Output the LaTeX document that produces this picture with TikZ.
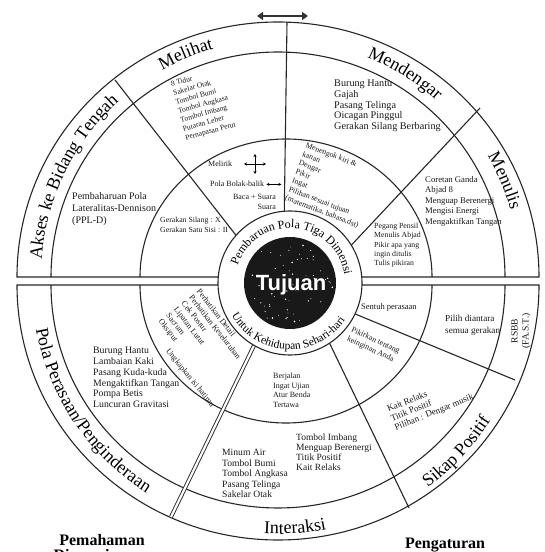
\documentclass[tikz,border=0pt]{standalone}
\usepackage{fontspec}
\setmainfont{Liberation Serif}
\newfontfamily\tujuanfont{Liberation Sans}
\usetikzlibrary{calc,arrows.meta,decorations.text}
\newcommand\ringlabelfont{\fontsize{18}{18}\selectfont}
\newcommand\hubringfont{\fontsize{12}{12}\selectfont}
\newcommand\hubringlowfont{\fontsize{11.5}{11.5}\selectfont}
\def\ringtext[#1](#2)(#3:#4:#5)#6{\path[decorate,decoration={text along path,text align=center,text={|#1|#6}}] ($(#2)+({#5*cos(#3)},{#5*sin(#3)})$) arc (#3:#4:#5);}

\begin{document}
\begin{tikzpicture}[x=1pt,y=1pt,
	wheel/.style={draw=black!85, line width=1.1pt},
	itemlist/.style={align=left, inner sep=0pt, text=black!90},
	tip/.style={line width=0.6pt, {Stealth[length=3pt,width=3pt]}-{Stealth[length=3pt,width=3pt]}}]
			%%%%% START %%%%%
			\useasboundingbox (0,0) rectangle (544,552);
			\clip (0,0) rectangle (544,552);
			
			\coordinate (top) at (278,275);
			\coordinate (bot) at (278,267);
			\coordinate (hubc) at (290,269);
			
			% two half discs
			\draw[wheel] (17,275) arc[start angle=180, end angle=0, x radius=261, y radius=255] -- cycle;
			\draw[wheel] (17,267) arc[start angle=180, end angle=360, x radius=261, y radius=255] -- cycle;
			\draw[wheel] (51,275) arc[start angle=180, end angle=0, x radius=227, y radius=225];
			\draw[wheel] (51,267) arc[start angle=180, end angle=360, x radius=227, y radius=223];
			\draw[wheel] (140,275) arc[start angle=180, end angle=0, x radius=146, y radius=138];
			\draw[wheel] (140,267) arc[start angle=180, end angle=360, x radius=146, y radius=138];
			
			% dividers
			\coordinate (akses) at (115,472);
			\coordinate (akses-in) at (256,291);
			\coordinate (mendengar) at (287,530);
			\coordinate (mendengar-in) at (284,320);
			\coordinate (menulis) at (480,444);
			\coordinate (menulis-in) at (329,283);
			\coordinate (rsbb) at (515,172);
			\coordinate (rsbb-in) at (331,248);
			\coordinate (sikap) at (409,44);
			\coordinate (sikap-in) at (315,239);
			\coordinate (interaksi) at (171,35);
			\coordinate (interaksi-in) at (262,223);
			\draw[wheel] (akses) -- (akses-in);
			\draw[wheel] (mendengar) -- (mendengar-in);
			\draw[wheel] (menulis) -- (menulis-in);
			\draw[wheel] (rsbb) -- (rsbb-in);
			\draw[wheel] (sikap) -- (sikap-in);
			\draw[wheel, line width=0.9pt, double=white, double distance=2.2pt] (interaksi) -- (interaksi-in);
			
			% hub
			\draw[wheel, fill=white] (hubc) circle (72);
			\fill[black!90] (hubc) circle (46);
			\pgfmathsetseed{11}
			\foreach \k in {1,...,60}{
				\pgfmathsetmacro\sa{360*rnd}
				\pgfmathsetmacro\sr{43*sqrt(rnd)}
				\pgfmathsetmacro\sd{0.35+0.55*rnd}
				\fill[white] ($(hubc)+(\sa:\sr)$) circle (\sd);
			}
			\node[text=white, font=\tujuanfont\bfseries\fontsize{22}{22}\selectfont, anchor=base] (tujuan) at (291,261) {Tujuan};
			\ringtext[\hubringfont](hubc)(178:-8:55){Pembaruan Pola Tiga Dimensi}
			\ringtext[\hubringlowfont](hubc)(188:347:66.5){Untuk Kehidupan Sehari-hari}
			
			% ring labels
			\ringtext[\ringlabelfont](top)(176:132:237){Akses ke Bidang Tengah}
			\ringtext[\ringlabelfont](top)(135:90:237){Melihat}
			\ringtext[\ringlabelfont](top)(85:31:237){Mendengar}
			\ringtext[\ringlabelfont](top)(42:4:242){Menulis}
			\ringtext[\ringlabelfont](bot)(186:242:246){Pola Perasaan/Penginderaan}
			\ringtext[\ringlabelfont](bot)(252:296:249){Interaksi}
			\ringtext[\ringlabelfont](bot)(300:334:252){Sikap Positif}
			\node[itemlist, align=center, rotate=90, font=\fontsize{9.5}{11}\selectfont] (rsbbtxt) at (521,221) {RSBB\\(FA.S.T.)};
			
			% upper half
			\node[itemlist, font=\fontsize{7.5}{9.3}\selectfont, rotate=15, anchor=north west] (melihatlist) at (170,471) {8 Tidur\\Sakelar Otak\\Tombol Bumi\\Tombol Angkasa\\Tombol Imbang\\Putaran Leher\\Pernapasan Perut};
			\node[itemlist, font=\fontsize{8}{10}\selectfont, anchor=base west] (melirik) at (208,385) {Melirik};
			\coordinate (silang) at (255,388);
			\draw[tip] ($(silang)+(-11,0)$) -- ($(silang)+(11,0)$);
			\draw[tip] ($(silang)+(0,-10)$) -- ($(silang)+(0,10)$);
			\node[itemlist, font=\fontsize{8}{10}\selectfont, anchor=base west] (bolak) at (210,365) {Pola Bolak-balik};
			\draw[tip] ([xshift=2pt,yshift=2.6pt]bolak.base east) -- ++(15,0);
			\node[itemlist, align=right, font=\fontsize{8}{10}\selectfont, anchor=north east] (baca) at (276,358) {Baca + Suara\\Suara};
			\node[itemlist, font=\fontsize{7.8}{9.5}\selectfont, anchor=north west] (gerakan) at (160,335) {Gerakan Silang : X\\Gerakan Satu Sisi : II};
			\node[itemlist, font=\fontsize{10}{12}\selectfont, anchor=north west] (ppld) at (72,360) {Pembaharuan Pola\\Lateralitas-Dennison\\(PPL-D)};
			\node[itemlist, font=\fontsize{10.2}{10.7}\selectfont, anchor=north west] (mendengarlist) at (334,472) {Burung Hantu\\Gajah\\Pasang Telinga\\Oicagan Pinggul\\Gerakan Silang Berbaring};
			\node[itemlist, font=\fontsize{7.8}{9.4}\selectfont, rotate=-21, anchor=north west] (menengok) at (307,410) {Menengok kiri \&\\kanan\\Dengar\\Pikir\\Ingat\\Pilihan sesuai tujuan\\(matematika, bahasa,dst)};
			\node[itemlist, font=\fontsize{8.7}{10.5}\selectfont, anchor=north west] (menulislist) at (425,376) {Coretan Ganda\\Abjad 8\\Menguap Berenergi\\Mengisi Energi\\Mengaktifkan Tangan};
			\node[itemlist, font=\fontsize{7.8}{9.3}\selectfont, anchor=north west] (pensil) at (374,329) {Pegang Pensil\\Menulis Abjad\\Pikir apa yang\\ingin ditulis\\Tulis pikiran};
			
			% lower half
			\node[itemlist, font=\fontsize{8.5}{10}\selectfont, anchor=base west] (sentuh) at (361,242) {Sentuh perasaan};
			\node[itemlist, font=\fontsize{9.2}{11.7}\selectfont, anchor=north west] (pilih) at (445,237) {Pilih diantara\\semua gerakan};
			\node[itemlist, font=\fontsize{8}{10}\selectfont, rotate=-25, anchor=north west] (pikirkan) at (353,226) {Pikirkan tentang\\keinginan Anda};
			\node[itemlist, font=\fontsize{9}{10}\selectfont, rotate=22, anchor=north west] (kait) at (386,146) {Kait Relaks\\Titik Positif\\Pilihan : Dengar musik};
			\node[itemlist, font=\fontsize{8}{9.5}\selectfont, anchor=north west] (berjalan) at (273,179) {Berjalan\\Ingat Ujian\\Atur Benda\\Tertawa};
			\node[itemlist, font=\fontsize{9.5}{10}\selectfont, anchor=north west] (imbang) at (296,118) {Tombol Imbang\\Menguap Berenergi\\Titik Positif\\Kait Relaks};
			\node[itemlist, font=\fontsize{9.6}{10.5}\selectfont, anchor=north west] (minum) at (222,103) {Minum Air\\Tombol Bumi\\Tombol Angkasa\\Pasang Telinga\\Sakelar Otak};
			\node[itemlist, font=\fontsize{9.8}{10.8}\selectfont, anchor=north west] (perasaanlist) at (93,205) {Burung Hantu\\Lambaian Kaki\\Pasang Kuda-kuda\\Mengaktifkan Tangan\\Pompa Betis\\Luncuran Gravitasi};
			\node[itemlist, font=\fontsize{8.2}{9.7}\selectfont, rotate=-52, anchor=north west] (perhatikan) at (201,264) {Perhatikan Detail\\Perhatikan Keseluruhan\\Cek Postur\\Lipatan Lutut\\Sacrum\\Oksiput};
			\node[itemlist, font=\fontsize{8.2}{9.7}\selectfont, rotate=-51] (ungkapkan) at (190,174) {Ungkapkan isi hatimu};
			
			% top arrow and captions
			\coordinate (panahkiri) at (257,536);
			\coordinate (panahkanan) at (308,536);
			\draw[line width=2.2pt, black!80, {Triangle[length=6pt,width=8pt]}-{Triangle[length=6pt,width=8pt]}] (panahkiri) -- (panahkanan);
			\node[font=\bfseries\fontsize{16}{16}\selectfont, anchor=base] (pemahaman) at (102,6) {Pemahaman};
			\node[font=\bfseries\fontsize{16}{16}\selectfont, anchor=base west] (dimensi) at (50,-8.5) {Dimensi};
			\node[font=\bfseries\fontsize{16}{16}\selectfont, anchor=base] (pengaturan) at (445,3) {Pengaturan};
			%%%%% END %%%%%
\end{tikzpicture}
\end{document}
